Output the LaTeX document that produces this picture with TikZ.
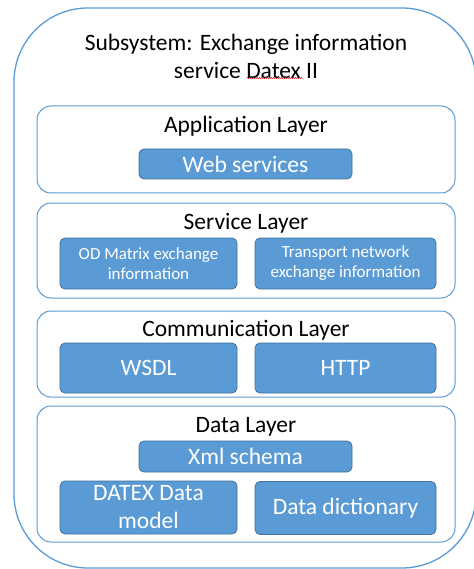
\documentclass[tikz,border=0pt]{standalone}
\usepackage{fontspec}
\setmainfont{Carlito}
\usetikzlibrary{decorations.pathmorphing}
\definecolor{obl}{HTML}{5B9BD5}
\definecolor{obd}{HTML}{41719C}
\tikzset{
  outerbox/.style={draw=obl, line width=1.3pt, rounded corners=74pt},
  layerbox/.style={draw=obl, line width=1pt, rounded corners=14pt, fill=white},
  itembox/.style={draw=obd, line width=0.8pt, rounded corners=5pt, fill=obl, text=white, align=center, inner sep=0pt},
  ttl/.style={align=center, text=black, inner sep=0pt},
  big/.style={font=\fontsize{23.5}{28}\selectfont},
  small/.style={font=\fontsize{17}{20}\selectfont},
}
\begin{document}
\begin{tikzpicture}[x=1pt,y=-1pt]
\useasboundingbox (0,0) rectangle (473,569);
\draw[outerbox] (14,8) rectangle (476,568);
\node[ttl, big] (title) at (246,56) {Subsystem: Exchange information\\service Datex II};
\draw[red, line width=0.4pt, decorate, decoration={snake, amplitude=0.6pt, segment length=2pt}] (247,78) -- (303,78);
% Application layer
\draw[layerbox] (37,106) rectangle (455,193);
\node[ttl, big] (app) at (246,126) {Application Layer};
\node[itembox, big, minimum width=213pt, minimum height=30pt] (web) at (245.5,164) {Web services};
% Service layer
\draw[layerbox] (37,203) rectangle (455,298);
\node[ttl, big] (svc) at (246,223) {Service Layer};
\node[itembox, small, minimum width=177pt, minimum height=51pt] (od) at (148.5,263.5) {OD Matrix exchange\\information};
\node[itembox, small, minimum width=181pt, minimum height=51pt] (tn) at (345.5,263.5) {Transport network\\exchange information};
% Communication layer
\draw[layerbox] (37,311) rectangle (455,397);
\node[ttl, big] (com) at (246,330) {Communication Layer};
\node[itembox, big, minimum width=177pt, minimum height=50pt] (wsdl) at (148.5,368) {WSDL};
\node[itembox, big, minimum width=181pt, minimum height=50pt] (http) at (345.5,368) {HTTP};
% Data layer
\draw[layerbox] (37,406) rectangle (455,542);
\node[ttl, big] (dat) at (246,427) {Data Layer};
\node[itembox, big, minimum width=213pt, minimum height=31pt] (xml) at (245.5,456.5) {Xml schema};
\node[itembox, big, minimum width=177pt, minimum height=53pt] (datex) at (148.5,507.5) {DATEX Data\\model};
\node[itembox, big, minimum width=181pt, minimum height=53pt] (dict) at (345.5,508) {Data dictionary};
\end{tikzpicture}
\end{document}
